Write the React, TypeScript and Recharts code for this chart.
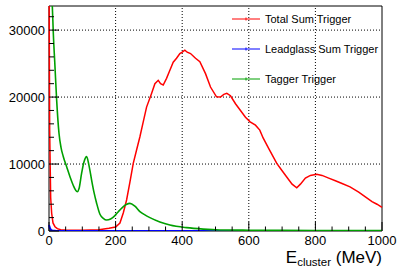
import { LineChart, Line, XAxis, YAxis, ReferenceLine, ReferenceArea, Legend, Label } from 'recharts';

// E_cluster (MeV) sample positions and counts
const TOTAL_X = [0, 2, 5, 8, 12, 18, 25, 35, 50, 100, 150, 180, 200, 213, 223, 233, 243, 253, 263, 273, 283, 293, 308, 318, 328, 335, 343, 353, 363, 373, 383, 393, 400, 408, 415, 425, 440, 453, 470, 485, 503, 515, 525, 534, 545, 560, 575, 590, 604, 620, 633, 643, 660, 684, 700, 715, 730, 744, 755, 770, 785, 804, 820, 840, 860, 880, 904, 930, 950, 970, 985, 1000];
const TOTAL_Y = [40000, 15000, 5000, 2650, 1200, 640, 350, 200, 150, 120, 200, 400, 600, 1190, 2700, 4630, 7300, 10100, 12100, 14070, 16300, 18500, 20550, 22000, 22500, 22000, 21800, 22800, 24000, 25200, 25800, 26500, 26700, 27000, 26700, 26500, 25800, 25270, 23500, 21500, 20040, 20000, 20400, 20550, 20200, 19000, 18000, 17000, 16300, 15800, 15070, 13900, 12300, 10100, 9000, 8000, 7000, 6460, 7000, 7900, 8300, 8460, 8300, 7900, 7500, 7100, 6600, 5800, 5100, 4400, 4000, 3530];

const LEADGLASS_X = [0, 3, 6, 10, 20, 100, 200, 400, 600, 800, 1000];
const LEADGLASS_Y = [900, 400, 150, 40, 20, 15, 15, 10, 10, 10, 10];

const TAGGER_X = [0, 5, 10, 13, 18, 23, 30, 36, 43, 53, 63, 73, 80, 85, 90, 98, 105, 113, 120, 128, 135, 143, 153, 163, 173, 185, 198, 208, 220, 232, 243, 258, 273, 288, 303, 333, 363, 413, 463, 513, 600, 700, 800, 1000];
const TAGGER_Y = [45000, 38000, 33500, 29500, 24500, 19550, 14600, 12500, 11100, 9600, 8100, 6800, 6100, 5870, 6300, 8650, 10300, 11100, 9800, 7600, 5800, 4150, 2500, 1900, 1640, 1800, 2300, 2880, 3500, 3950, 4130, 3700, 2900, 2400, 2000, 1350, 900, 500, 280, 160, 120, 100, 80, 60];

const SERIES_ORDER = ['Total Sum Trigger', 'Leadglass Sum Trigger', 'Tagger Trigger'];

const X_TICKS = [0, 50, 100, 150, 200, 250, 300, 350, 400, 450, 500, 550, 600, 650, 700, 750, 800, 850, 900, 950, 1000];
const X_MAJOR = [0, 200, 400, 600, 800, 1000];
const Y_TICKS = [0, 2000, 4000, 6000, 8000, 10000, 12000, 14000, 16000, 18000, 20000, 22000, 24000, 26000, 28000, 30000, 32000];
const Y_MAJOR = [0, 10000, 20000, 30000];
const X_GRID = [200, 400, 600, 800];
const Y_GRID = [10000, 20000, 30000];

const zip = (xs: number[], ys: number[]) => xs.map((x, i) => ({ x, y: ys[i] }));
const totalData = zip(TOTAL_X, TOTAL_Y);
const leadglassData = zip(LEADGLASS_X, LEADGLASS_Y);
const taggerData = zip(TAGGER_X, TAGGER_Y);

const PLOT_LEFT = 49;
const PLOT_BOTTOM = 231;
const FONT = '"Liberation Sans", Arial, sans-serif';

function XTick(props: any) {
    const { x, payload } = props;
    const major = X_MAJOR.includes(payload.value);
    return (
        <g>
            <line x1={x} x2={x} y1={PLOT_BOTTOM} y2={PLOT_BOTTOM - (major ? 9 : 4.5)} stroke="#000" />
            {major && (
                <text x={x} y={PLOT_BOTTOM + 13.5} textAnchor="middle" fontSize={13} fontFamily={FONT} fill="#000">
                    {payload.value}
                </text>
            )}
        </g>
    );
}

function YTick(props: any) {
    const { y, payload } = props;
    const major = Y_MAJOR.includes(payload.value);
    return (
        <g>
            <line x1={PLOT_LEFT} x2={PLOT_LEFT + (major ? 10 : 5)} y1={y} y2={y} stroke="#000" />
            {major && (
                <text x={PLOT_LEFT - 4} y={y + 4.5} textAnchor="end" fontSize={13} fontFamily={FONT} fill="#000">
                    {payload.value}
                </text>
            )}
        </g>
    );
}

function AxisTitle() {
    return (
        <text x={382} y={263} textAnchor="end" fontFamily={FONT} fill="#000">
            <tspan fontSize={17}>E</tspan>
            <tspan fontSize={11.5} dy={3}>cluster</tspan>
            <tspan fontSize={17} dy={-3}> (MeV)</tspan>
        </text>
    );
}

function LegendBox(props: any) {
    const payload = [...(props.payload || [])].sort(
        (a: any, b: any) => SERIES_ORDER.indexOf(a.value) - SERIES_ORDER.indexOf(b.value)
    );
    return (
        <svg width={154} height={90} style={{ display: 'block' }}>
            {payload.map((entry: any, i: number) => {
                const cy = 13 + i * 30;
                return (
                    <g key={entry.value}>
                        <line x1={4} x2={32} y1={cy} y2={cy} stroke={entry.color} strokeWidth={1} />
                        <line x1={18} x2={18} y1={cy - 1.5} y2={cy + 1.5} stroke={entry.color} strokeWidth={1} />
                        <text x={37} y={cy + 4} fontSize={11} fontFamily={FONT} fill="#000">
                            {entry.value}
                        </text>
                    </g>
                );
            })}
        </svg>
    );
}

export default function App() {
    return (
        <div style={{ position: 'absolute', left: 0, top: 0, background: '#fff' }}>
            <LineChart width={399} height={269} margin={{ top: 6, right: 17, left: 0, bottom: 0 }}>
                <XAxis
                    type="number"
                    dataKey="x"
                    domain={[0, 1000]}
                    ticks={X_TICKS}
                    interval={0}
                    height={38}
                    axisLine={false}
                    tickLine={false}
                    tick={<XTick />}
                >
                    <Label content={<AxisTitle />} />
                </XAxis>
                <YAxis
                    type="number"
                    dataKey="y"
                    domain={[0, 33600]}
                    allowDataOverflow
                    ticks={Y_TICKS}
                    interval={0}
                    width={49}
                    axisLine={false}
                    tickLine={false}
                    tick={<YTick />}
                />
                {X_GRID.map((v) => (
                    <ReferenceLine key={`gx${v}`} x={v} stroke="#000" strokeDasharray="1 2" strokeWidth={1} />
                ))}
                {Y_GRID.map((v) => (
                    <ReferenceLine key={`gy${v}`} y={v} stroke="#000" strokeDasharray="1 2" strokeWidth={1} />
                ))}
                <Line data={totalData} dataKey="y" name="Total Sum Trigger" type="linear" stroke="#ff0000" strokeWidth={1.5} dot={false} isAnimationActive={false} />
                <Line data={leadglassData} dataKey="y" name="Leadglass Sum Trigger" type="linear" stroke="#0000ff" strokeWidth={2} dot={false} isAnimationActive={false} />
                <Line data={taggerData} dataKey="y" name="Tagger Trigger" type="monotone" stroke="#00a000" strokeWidth={1.6} dot={false} isAnimationActive={false} />
                <ReferenceArea x1={0} x2={1000} y1={0} y2={33600} fill="none" stroke="#000" strokeWidth={1} ifOverflow="visible" />
                <Legend
                    layout="horizontal"
                    verticalAlign="middle"
                    align="center"
                    itemSorter={null as any}
                    content={<LegendBox />}
                    wrapperStyle={{ top: 6, left: 228, width: 154, height: 90 }}
                />
            </LineChart>
        </div>
    );
}
